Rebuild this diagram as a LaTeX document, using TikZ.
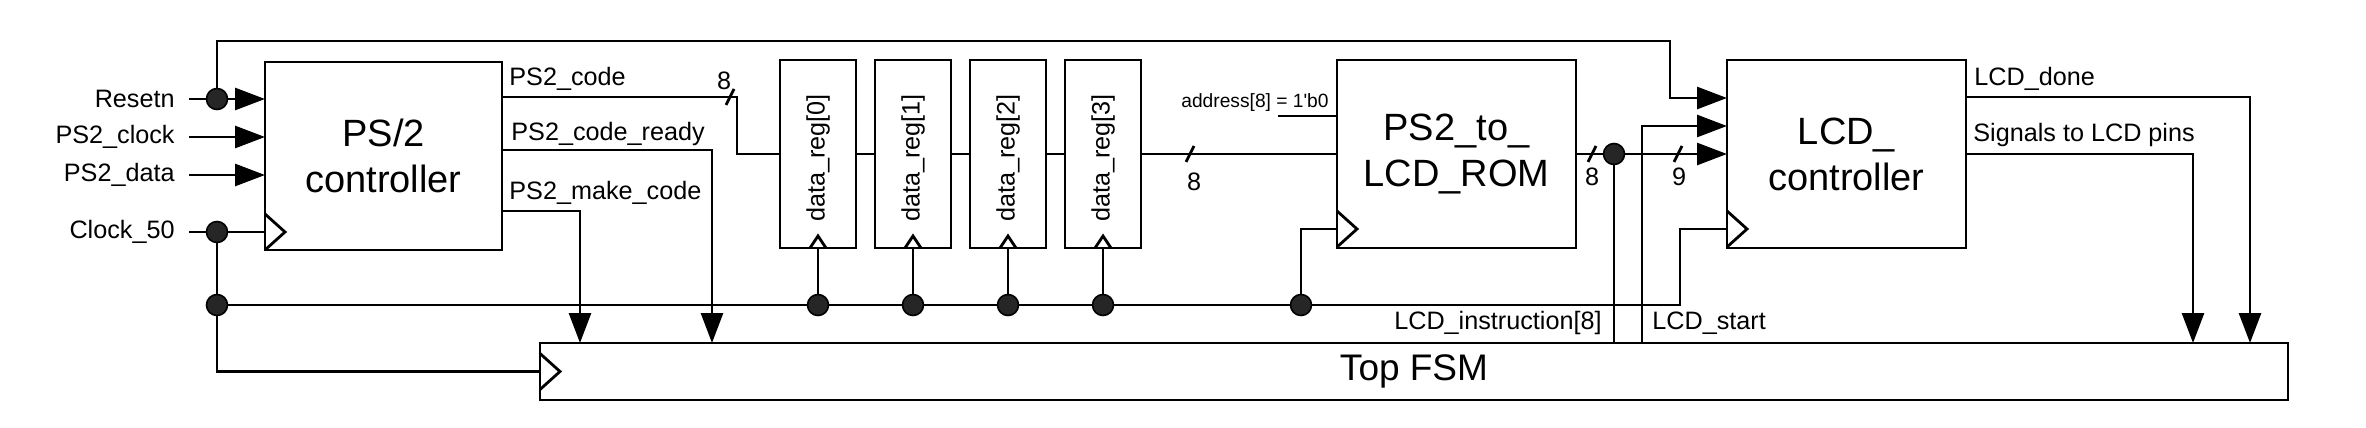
\documentclass[tikz,border=0pt]{standalone}
\usepackage{fontspec}
\setmainfont{Liberation Sans}
\usetikzlibrary{positioning, calc, arrows.meta}
\tikzset{
  blk/.style={draw, inner sep=0pt, outer sep=0pt, align=center, font=\fontsize{19}{23}\selectfont},
  lbl/.style={inner sep=0pt, font=\fontsize{12.6}{15}\selectfont},
  sig/.style={-{Triangle[length=15pt, width=11pt]}},
  jct/.style={circle, draw, fill=black!85, line width=0.8pt, inner sep=0pt, minimum size=10.5pt}
}
\newcommand{\clkin}[1]{\draw ($(#1)+(0,-18)$) -- ++(20,18) -- ++(-20,18);}
\newcommand{\clkup}[1]{\draw ($(#1)+(-8,0)$) -- ++(8,-12) -- ++(8,12);}
\newcommand{\wslash}[1]{\draw ($(#1)+(-4,8)$) -- ++(8,-16);}
\begin{document}
\begin{tikzpicture}[x=0.5pt, y=-0.5pt, line width=1.4pt]
	\useasboundingbox (0,0) rectangle (2366,428);
	\node[blk, minimum width=118.5pt, minimum height=94pt] (ps2) at (383.5,156) {PS/2\\controller};
	\node[blk, minimum width=119.5pt, minimum height=94pt] (rom) at (1456.5,154) {PS2\_to\_\\LCD\_ROM};
	\node[blk, minimum width=119.5pt, minimum height=94pt] (lcd) at (1846.5,154) {LCD\_\\controller};
	\node[blk, minimum width=874pt, minimum height=28.5pt, font=\fontsize{18.5}{21}\selectfont] (fsm) at (1414,371.5) {Top FSM};
	\foreach \i/\x in {0/818,1/913,2/1008,3/1103} {
		\node[blk, minimum width=38pt, minimum height=94pt] (reg\i) at (\x,154) {};
		\node[lbl, rotate=90] at (\x,158) {data\_reg[\i]};
		\clkup{reg\i.south}
		\draw (\x,305) -- (reg\i.south);
	}
	\node[lbl, anchor=east, inner xsep=6.5pt] (rst) at (189,99) {Resetn};
	\node[lbl, anchor=east, inner xsep=6.5pt] (clk) at (189,137) {PS2\_clock};
	\node[lbl, anchor=east, inner xsep=6.5pt] (dat) at (189,175) {PS2\_data};
	\node[lbl, anchor=east, inner xsep=6.5pt] (c50) at (189,232) {Clock\_50};
	\coordinate (rdot) at (217,99); \coordinate (cdot) at (217,232);
	\coordinate (bdot) at (217,305); \coordinate (rdot2) at (1301,305);
	\coordinate (odot) at (1614,154);
	\draw (rst.east) -- (rdot);
	\draw[sig] (rdot) -- (rdot -| ps2.west);
	\draw[sig] (rdot) |- (1670,41) |- (lcd.west |- 0,98);
	\draw[sig] (clk.east) -- (clk.east -| ps2.west);
	\draw[sig] (dat.east) -- (dat.east -| ps2.west);
	\draw (c50.east) -- (cdot -| ps2.west);
	\clkin{cdot -| ps2.west}
	\draw (cdot) -- (bdot) |- (fsm.west);
	\clkin{fsm.west}
	\draw (bdot) -- (1680,305) |- (lcd.west |- 0,229);
	\clkin{lcd.west |- 0,229}
	\draw (ps2.east |- 0,97) -| (737,154) -- (reg0.west);
	\node[lbl, anchor=base west] at (508,85) {PS2\_code};
	\wslash{730,97} \node[lbl] at (724,81) {8};
	\draw[sig] (ps2.east |- 0,150) -| (fsm.north -| 712,0);
	\node[lbl, anchor=base west] at (510,140) {PS2\_code\_ready};
	\draw[sig] (ps2.east |- 0,211) -| (fsm.north -| 580,0);
	\node[lbl, anchor=base west] at (508,199) {PS2\_make\_code};
	\draw (reg0.east) -- (reg1.west) (reg1.east) -- (reg2.west) (reg2.east) -- (reg3.west) (reg3.east) -- (rom.west);
	\wslash{1190,154} \node[lbl] at (1194,182) {8};
	\node[inner sep=0pt, anchor=base east, font=\fontsize{9.6}{11}\selectfont] at (1330,107) {address[8] = 1\textquotesingle b0};
	\draw (1278,116) -- (rom.west |- 0,116);
	\draw (rdot2) |- (rom.west |- 0,229);
	\clkin{rom.west |- 0,229}
	\draw (rom.east) -- (odot);
	\draw[sig] (odot) -- (lcd.west);
	\wslash{1592,154} \node[lbl] at (1592,177) {8};
	\wslash{1678,154} \node[lbl] at (1679,177) {9};
	\draw (odot) -- (fsm.north -| odot);
	\node[lbl, anchor=base east] at (1603,329) {LCD\_instruction[8]};
	\draw[sig] (fsm.north -| 1642,0) |- (lcd.west |- 0,126);
	\node[lbl, anchor=base west] at (1651,329) {LCD\_start};
	\draw[sig] (lcd.east |- 0,97) -| (fsm.north -| 2250,0);
	\node[lbl, anchor=base west] at (1973,85) {LCD\_done};
	\draw[sig] (lcd.east) -| (fsm.north -| 2193,0);
	\node[lbl, anchor=base west] at (1972,141) {Signals to LCD pins};
	\foreach \p in {rdot,cdot,bdot,rdot2,odot} \node[jct] at (\p) {};
	\foreach \x in {818,913,1008,1103} \node[jct] at (\x,305) {};
\end{tikzpicture}
\end{document}
